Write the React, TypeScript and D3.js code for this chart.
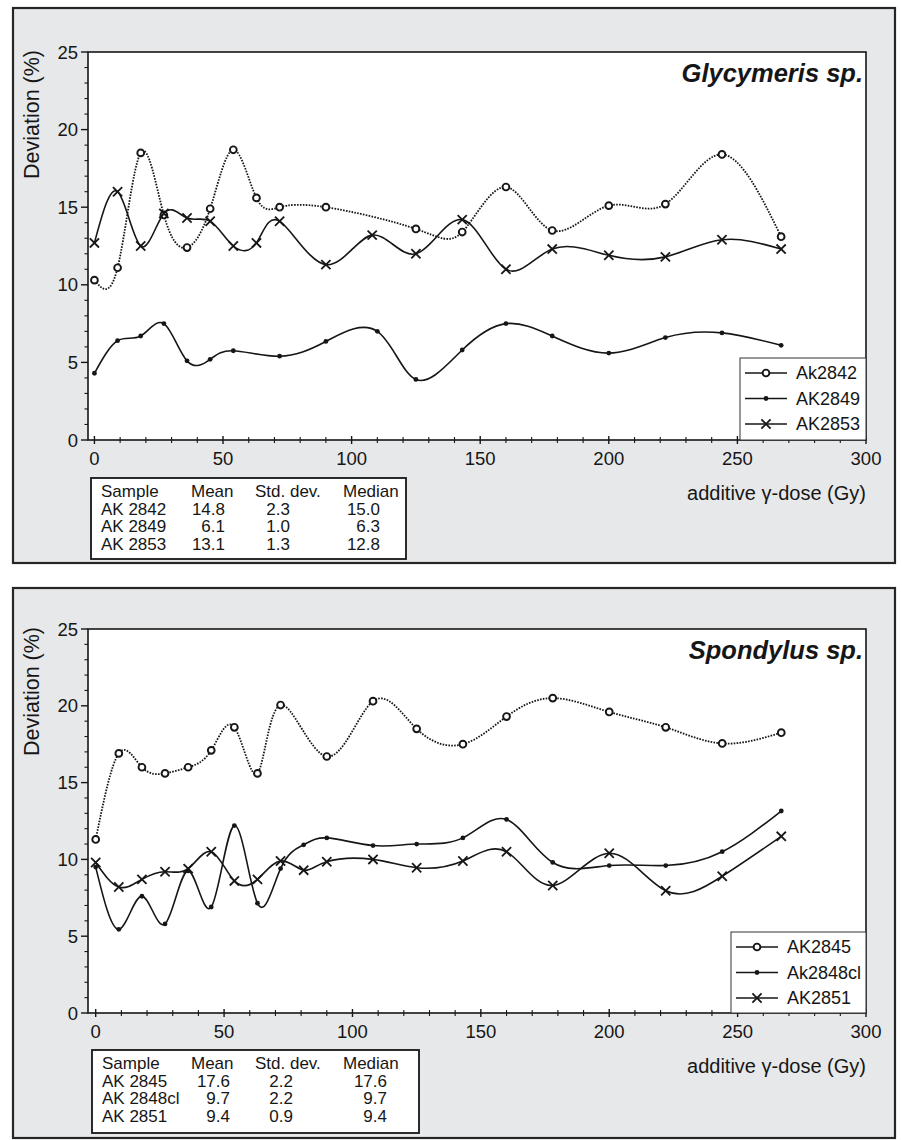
import React from 'react'
import * as d3 from 'd3'

// --- data ---
const dosesShort = [0, 9, 18, 27, 36, 45, 54, 63, 72, 90, 108, 125, 143, 160, 178, 200, 222, 244, 267]
const dosesLong = [0, 9, 18, 27, 36, 45, 54, 63, 72, 81, 90, 108, 125, 143, 160, 178, 200, 222, 244, 267]

const ak2842Doses = [0, 9, 18, 27, 36, 45, 54, 63, 72, 90, 125, 143, 160, 178, 200, 222, 244, 267]
const ak2842Values = [10.3, 11.1, 18.5, 14.5, 12.4, 14.9, 18.7, 15.6, 15.0, 15.0, 13.6, 13.4, 16.3, 13.5, 15.1, 15.2, 18.4, 13.1]
const ak2849Doses = [0, 9, 18, 27, 36, 45, 54, 72, 90, 110, 125, 143, 160, 178, 200, 222, 244, 267]
const ak2849Values = [4.3, 6.4, 6.7, 7.5, 5.1, 5.2, 5.75, 5.4, 6.35, 7.0, 3.9, 5.8, 7.5, 6.7, 5.6, 6.6, 6.9, 6.1]
const ak2853Values = [12.7, 16.0, 12.5, 14.6, 14.3, 14.1, 12.5, 12.7, 14.1, 11.3, 13.2, 12.0, 14.2, 11.0, 12.3, 11.9, 11.8, 12.9, 12.3]

const ak2845Values = [11.3, 16.9, 16.0, 15.6, 16.0, 17.1, 18.6, 15.6, 20.05, 16.7, 20.3, 18.5, 17.5, 19.3, 20.5, 19.6, 18.6, 17.55, 18.25]
const ak2848clValues = [9.5, 5.45, 7.6, 5.8, 9.25, 6.9, 12.2, 7.15, 9.4, 10.95, 11.4, 10.9, 11.0, 11.4, 12.6, 9.8, 9.6, 9.6, 10.5, 13.15]
const ak2851Values = [9.8, 8.2, 8.7, 9.2, 9.4, 10.5, 8.6, 8.7, 9.9, 9.3, 9.85, 10.0, 9.46, 9.9, 10.5, 8.3, 10.4, 7.96, 8.9, 11.5]

const tableHeader = ['Sample', 'Mean', 'Std. dev.', 'Median']
const glycymerisTable = [
  ['AK 2842', '14.8', '2.3', '15.0'],
  ['AK 2849', '6.1', '1.0', '6.3'],
  ['AK 2853', '13.1', '1.3', '12.8']
]
const spondylusTable = [
  ['AK 2845', '17.6', '2.2', '17.6'],
  ['AK 2848cl', '9.7', '2.2', '9.7'],
  ['AK 2851', '9.4', '0.9', '9.4']
]

const xTicks = [0, 50, 100, 150, 200, 250, 300]
const yTicks = [0, 5, 10, 15, 20, 25]

const FONT = '"Liberation Sans", Arial, Helvetica, sans-serif'
const INK = '#161616'

function Marker({ kind, x, y }) {
  if (kind === 'circle') return <circle cx={x} cy={y} r={3.4} fill="#fff" stroke={INK} strokeWidth={1.9} />
  if (kind === 'dot') return <circle cx={x} cy={y} r={2.4} fill={INK} />
  const s = 4.6
  return (
    <g stroke={INK} strokeWidth={1.8}>
      <line x1={x - s} y1={y - s} x2={x + s} y2={y + s} />
      <line x1={x - s} y1={y + s} x2={x + s} y2={y - s} />
    </g>
  )
}

function Panel({ box, plot, xMin, title, series, legend, table, tableCols }) {
  const x = d3.scaleLinear().domain([xMin, 300]).range([plot.left, plot.right])
  const y = d3.scaleLinear().domain([0, 25]).range([plot.bottom, plot.top])
  const line = d3.line().x(d => x(d[0])).y(d => y(d[1])).curve(d3.curveNatural)
  const minorX = d3.range(10, 300, 10).filter(v => v % 50 !== 0)
  const minorY = d3.range(1, 25, 1).filter(v => v % 5 !== 0)

  return (
    <g fontFamily={FONT} fill={INK}>
      <rect x={box.left} y={box.top} width={box.right - box.left} height={box.bottom - box.top} fill="#e7e8ea" stroke="#262626" strokeWidth={2.2} />
      <rect x={plot.left} y={plot.top} width={plot.right - plot.left} height={plot.bottom - plot.top} fill="#fff" stroke={INK} strokeWidth={1.6} />

      {/* y axis */}
      {yTicks.map(t => (
        <g key={`yt${t}`}>
          <line x1={plot.left - 7} x2={plot.left} y1={y(t)} y2={y(t)} stroke={INK} strokeWidth={1.4} />
          <text x={plot.left - 10} y={y(t)} dy="0.36em" textAnchor="end" fontSize={18.5}>{t}</text>
        </g>
      ))}
      {minorY.map(t => (
        <line key={`ym${t}`} x1={plot.left - 3.5} x2={plot.left} y1={y(t)} y2={y(t)} stroke={INK} strokeWidth={1.1} />
      ))}
      <text transform={`translate(${plot.left - 49},${plot.top - 2}) rotate(-90)`} textAnchor="end" fontSize={21.5}>Deviation (%)</text>

      {/* x axis */}
      {xTicks.map(t => (
        <g key={`xt${t}`}>
          <line x1={x(t)} x2={x(t)} y1={plot.bottom - 4} y2={plot.bottom + 4} stroke={INK} strokeWidth={1.4} />
          <text x={x(t)} y={plot.bottom + 25} textAnchor="middle" fontSize={18.5}>{t}</text>
        </g>
      ))}
      {minorX.map(t => (
        <line key={`xm${t}`} x1={x(t)} x2={x(t)} y1={plot.bottom - 3} y2={plot.bottom + 3} stroke={INK} strokeWidth={1.1} />
      ))}
      <text x={plot.right} y={plot.bottom + 60} textAnchor="end" fontSize={20}>additive γ-dose (Gy)</text>

      <text x={plot.right - 3} y={plot.top + 30} textAnchor="end" fontSize={25.5} fontWeight="bold" fontStyle="italic">{title}</text>

      {/* series */}
      {series.map(s => {
        const pts = s.doses.map((d, i) => [d, s.values[i]])
        return (
          <g key={s.name}>
            <path d={line(pts)} fill="none" stroke={INK} strokeWidth={s.dotted ? 1.8 : 1.6} strokeDasharray={s.dotted ? '1.6,1.3' : undefined} />
            {pts.map((p, i) => <Marker key={i} kind={s.marker} x={x(p[0])} y={y(p[1])} />)}
          </g>
        )
      })}

      {/* legend */}
      <rect x={legend.left} y={legend.top} width={plot.right - legend.left} height={plot.bottom - legend.top} fill="#fff" stroke="#333" strokeWidth={1} />
      {series.map((s, i) => {
        const ly = legend.top + 15 + i * 25.5
        const lx = legend.left + 5
        return (
          <g key={`lg${s.name}`}>
            <line x1={lx} x2={lx + 42} y1={ly} y2={ly} stroke={INK} strokeWidth={1.4} />
            <Marker kind={s.marker} x={lx + 21} y={ly} />
            <text x={lx + 51} y={ly} dy="0.36em" fontSize={18}>{s.label}</text>
          </g>
        )
      })}

      {/* stats table */}
      <rect x={table.left} y={table.top} width={table.right - table.left} height={table.bottom - table.top} fill="#fff" stroke={INK} strokeWidth={1.8} />
      <g fontSize={17}>
        <text x={table.left + 10} y={table.top + 19}>{tableHeader[0]}</text>
        <text x={tableCols.meanHead} y={table.top + 19}>{tableHeader[1]}</text>
        <text x={tableCols.sdHead} y={table.top + 19}>{tableHeader[2]}</text>
        <text x={tableCols.medHead} y={table.top + 19}>{tableHeader[3]}</text>
        {table.rows.map((r, i) => {
          const ty = table.top + 36.5 + i * 17.5
          return (
            <g key={`tr${i}`}>
              <text x={table.left + 10} y={ty}>{r[0]}</text>
              <text x={tableCols.mean} y={ty} textAnchor="end">{r[1]}</text>
              <text x={tableCols.sd} y={ty} textAnchor="end">{r[2]}</text>
              <text x={tableCols.med} y={ty} textAnchor="end">{r[3]}</text>
            </g>
          )
        })}
      </g>
    </g>
  )
}

export default function App() {
  const topSeries = [
    { name: 'a2842', label: 'Ak2842', doses: ak2842Doses, values: ak2842Values, marker: 'circle', dotted: true },
    { name: 'a2849', label: 'AK2849', doses: ak2849Doses, values: ak2849Values, marker: 'dot', dotted: false },
    { name: 'a2853', label: 'AK2853', doses: dosesShort, values: ak2853Values, marker: 'cross', dotted: false }
  ]
  const bottomSeries = [
    { name: 'a2845', label: 'AK2845', doses: dosesShort, values: ak2845Values, marker: 'circle', dotted: true },
    { name: 'a2848', label: 'Ak2848cl', doses: dosesLong, values: ak2848clValues, marker: 'dot', dotted: false },
    { name: 'a2851', label: 'AK2851', doses: dosesLong, values: ak2851Values, marker: 'cross', dotted: false }
  ]

  return (
    <div style={{ position: 'absolute', left: 0, top: 0 }}>
      <svg width={902} height={1140} viewBox="0 0 902 1140">
        <rect width={902} height={1140} fill="#fff" />
        <Panel
          box={{ left: 13, top: 8, right: 895, bottom: 563 }}
          plot={{ left: 88, top: 52, right: 866, bottom: 440 }}
          xMin={-2.5}
          title="Glycymeris sp."
          series={topSeries}
          legend={{ left: 740, top: 358 }}
          table={{ left: 91, top: 478, right: 406, bottom: 559, rows: glycymerisTable }}
          tableCols={{ meanHead: 191, sdHead: 255, medHead: 343, mean: 225, sd: 290, med: 380 }}
        />
        <Panel
          box={{ left: 13, top: 588, right: 895, bottom: 1138 }}
          plot={{ left: 88, top: 629, right: 866, bottom: 1013 }}
          xMin={-3}
          title="Spondylus sp."
          series={bottomSeries}
          legend={{ left: 731, top: 932 }}
          table={{ left: 92, top: 1050, right: 419, bottom: 1133, rows: spondylusTable }}
          tableCols={{ meanHead: 191, sdHead: 255, medHead: 343, mean: 230, sd: 293, med: 387 }}
        />
      </svg>
    </div>
  )
}
